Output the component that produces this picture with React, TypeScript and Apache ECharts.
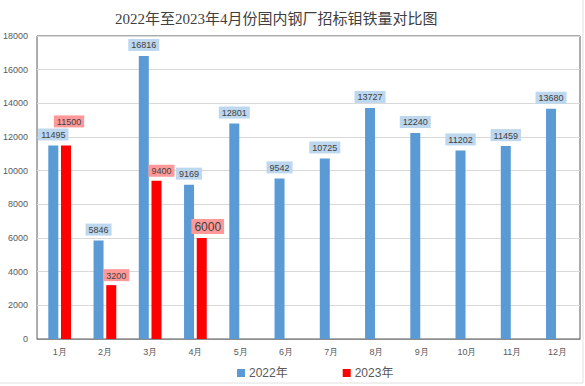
import React, { useEffect, useRef } from "react";
import * as echarts from "echarts";

const titleText = "2022年至2023年4月份国内钢厂招标钼铁量对比图";
const months = ["1月", "2月", "3月", "4月", "5月", "6月", "7月", "8月", "9月", "10月", "11月", "12月"];
const values2022 = [11495, 5846, 16816, 9169, 12801, 9542, 10725, 13727, 12240, 11202, 11459, 13680];
const values2023: (number | null)[] = [11500, 3200, 9400, 6000, null, null, null, null, null, null, null, null];
const seriesNames = ["2022年", "2023年"];

export default function App() {
  const ref = useRef<HTMLDivElement>(null);
  useEffect(() => {
    if (!ref.current) return;
    const chart = echarts.init(ref.current, null, { renderer: "svg" });
    const blueLabel = {
      show: true,
      position: "top",
      distance: 5,
      fontSize: 9,
      color: "#404040",
      backgroundColor: "#bdd7ee",
      padding: [2, 3, 1, 3],
      fontFamily: "Liberation Sans, Arial, sans-serif",
    };
    const redLabel = {
      show: true,
      position: "top",
      distance: 4,
      fontSize: 9,
      color: "#404040",
      backgroundColor: "#ff9999",
      padding: [2, 3, 1, 3],
      offset: [5, 0],
      fontFamily: "Liberation Sans, Arial, sans-serif",
    };
    const redData = values2023.map((v, i) => {
      if (v == null) return null;
      if (i === 0) return { value: v, label: { offset: [3, -14] } };
      if (i === 3) return { value: v, label: { fontSize: 12, offset: [6, 0], padding: [2, 3, 1, 3] } };
      return v;
    });
    chart.setOption({
      animation: false,
      backgroundColor: "#ffffff",
      title: {
        text: titleText,
        left: 110,
        top: 6,
        textStyle: {
          fontSize: 15,
          fontWeight: "normal",
          color: "#404040",
          fontFamily: "Liberation Serif, Noto Sans CJK SC, serif",
        },
      },
      legend: {
        top: 362,
        left: 232,
        itemWidth: 8,
        itemHeight: 8,
        itemGap: 55,
        icon: "rect",
        textStyle: { fontSize: 12, color: "#595959", padding: [0, 0, 0, -1], fontFamily: "Liberation Sans, Noto Sans CJK SC, sans-serif" },
        data: seriesNames,
      },
      grid: {
        left: 35,
        right: 5,
        top: 36,
        bottom: 47,
        show: true,
        borderColor: "#595959",
        borderWidth: 1,
      },
      xAxis: {
        type: "category",
        data: months,
        axisLine: { lineStyle: { color: "#8c8c8c" } },
        axisTick: { show: false },
        axisLabel: { fontSize: 9, color: "#595959", margin: 8 },
      },
      yAxis: {
        type: "value",
        min: 0,
        max: 18000,
        interval: 2000,
        axisLine: { show: false },
        axisTick: { show: false },
        axisLabel: { fontSize: 9, color: "#595959", margin: 9, formatter: (v: number) => String(v) },
        splitLine: { lineStyle: { color: "#d9d9d9" } },
      },
      series: [
        {
          name: seriesNames[0],
          type: "bar",
          data: values2022,
          barWidth: 10,
          barGap: "27%",
          itemStyle: { color: "#5b9bd5" },
          label: blueLabel,
        },
        {
          name: seriesNames[1],
          type: "bar",
          data: redData,
          barWidth: 10,
          itemStyle: { color: "#ff0000" },
          label: redLabel,
        },
      ],
      graphic: [
        { type: "line", shape: { x1: 0, y1: 383, x2: 583, y2: 383 }, style: { stroke: "#e0e0e0", lineWidth: 1 } },
        { type: "line", shape: { x1: 583, y1: 0, x2: 583, y2: 383 }, style: { stroke: "#e0e0e0", lineWidth: 1 } },
      ],
    });
    return () => chart.dispose();
  }, []);
  return <div ref={ref} style={{ position: "fixed", left: 0, top: 0, width: 585, height: 386 }} />;
}
